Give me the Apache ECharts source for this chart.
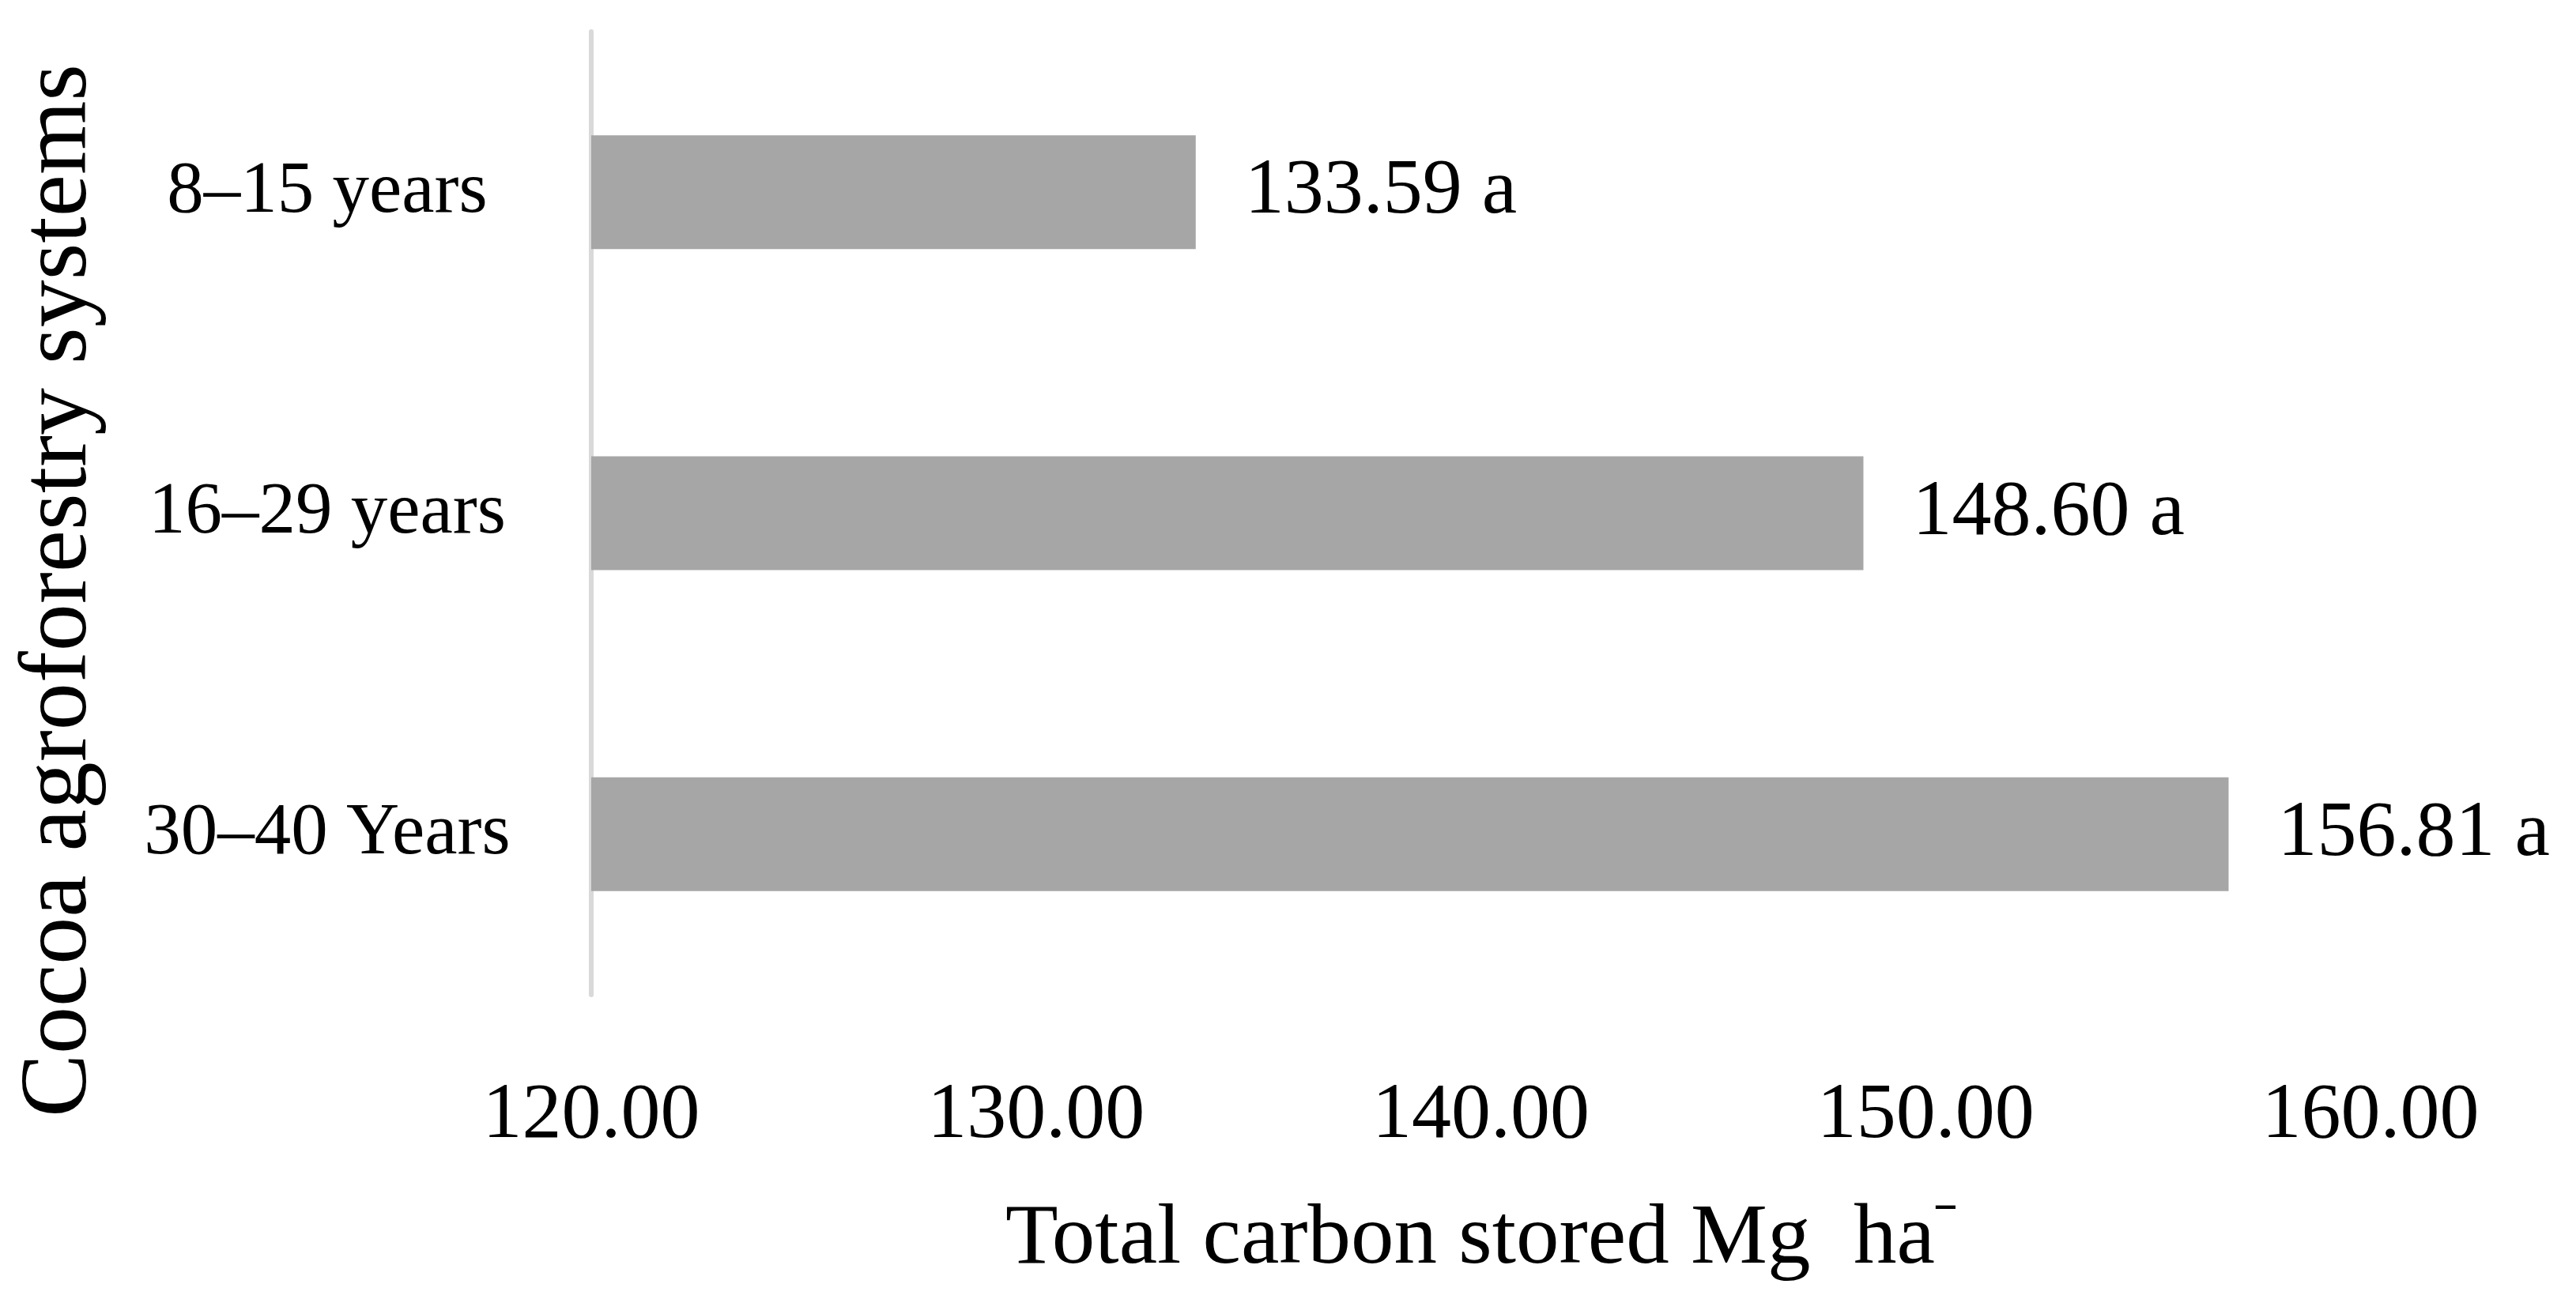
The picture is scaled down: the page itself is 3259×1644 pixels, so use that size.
<!DOCTYPE html>
<html>
<head>
<meta charset="utf-8">
<script src="https://cdn.jsdelivr.net/npm/echarts@6/dist/echarts.min.js"></script>
<style>
html,body{margin:0;padding:0;background:#fff;}
#chart{width:3259px;height:1644px;}
</style>
</head>
<body>
<div id="chart"></div>
<script>
var categories = ['8–15 years', '16–29 years', '30–40 Years'];
var values = [133.59, 148.60, 156.81];
var letters = ['a', 'a', 'a'];
var xMin = 120, xMax = 160, xStep = 10;
var xTitle = 'Total carbon stored Mg  ha{s|ˉ}';
var yTitle = 'Cocoa agroforestry systems';

var FONT = '"Liberation Serif", "DejaVu Serif", serif';
var chart = echarts.init(document.getElementById('chart'));
chart.setOption({
  backgroundColor: '#ffffff',
  animation: false,
  grid: {left: 748, right: 260, top: 40, bottom: 385, containLabel: false},
  xAxis: {
    type: 'value', min: xMin, max: xMax, interval: xStep,
    axisLine: {show: false}, axisTick: {show: false}, splitLine: {show: false},
    axisLabel: {
      margin: 104, color: '#000', fontFamily: FONT, fontSize: 100,
      formatter: function (v) { return v.toFixed(2); }
    },
    name: xTitle, nameLocation: 'middle', nameGap: 254,
    nameTextStyle: {color: '#000', fontFamily: FONT, fontSize: 109,
      rich: {s: {fontFamily: FONT, fontSize: 82, color: '#000', verticalAlign: 'top', padding: [0, 0, 30, 0]}}}
  },
  yAxis: {
    type: 'category', data: categories, inverse: true,
    axisLine: {show: true, lineStyle: {color: '#d9d9d9', width: 6}},
    axisTick: {show: false}, splitLine: {show: false},
    axisLabel: {margin: 334, align: 'center', color: '#000', fontFamily: FONT, fontSize: 93},
    name: yTitle, nameLocation: 'middle', nameRotate: 90, nameGap: 612,
    nameTextStyle: {color: '#000', fontFamily: FONT, fontSize: 120, padding: [0, 196, 0, 0]}
  },
  series: [{
    type: 'bar', data: values, barWidth: 144,
    itemStyle: {color: '#a6a6a6'},
    label: {
      show: true, position: 'right', distance: 62,
      color: '#000', fontFamily: FONT, fontSize: 100,
      formatter: function (p) { return p.value.toFixed(2) + ' ' + letters[p.dataIndex]; }
    }
  }]
});
</script>
</body>
</html>
